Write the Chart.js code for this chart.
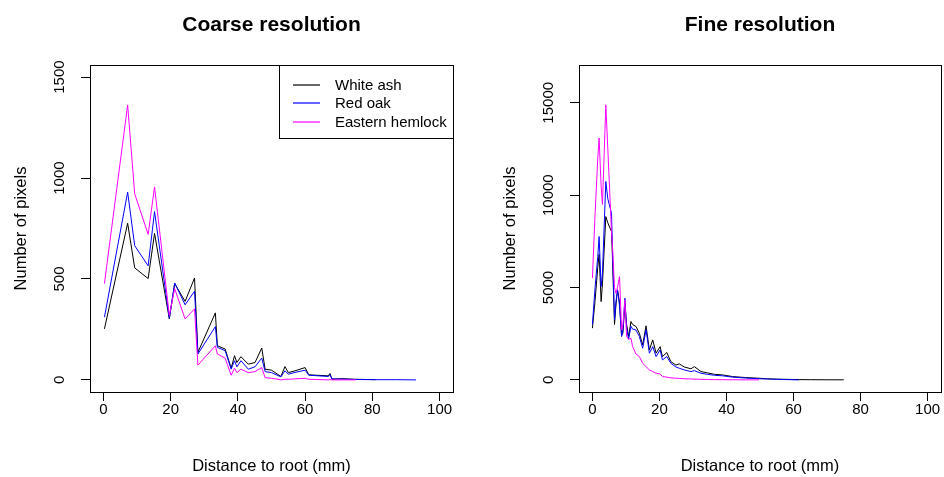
<!DOCTYPE html>
<html>
<head>
<meta charset="utf-8">
<script src="https://cdn.jsdelivr.net/npm/chart.js@4.4.1/dist/chart.umd.min.js"></script>
<style>
  html, body { margin: 0; padding: 0; background: #fff; width: 944px; height: 477px; overflow: hidden; }
  canvas { position: absolute; top: 0; }
  #coarse { left: 0; }
  #fine { left: 472px; }
</style>
</head>
<body>
<canvas id="coarse" width="472" height="477"></canvas>
<canvas id="fine" width="472" height="477"></canvas>
<script>
// ---- data -----------------------------------------------------------------
const xTicks = [0, 20, 40, 60, 80, 100];
const coarseTicks = [0, 500, 1000, 1500];
const fineTicks = [0, 5000, 10000, 15000];
const speciesNames = ["White ash", "Red oak", "Eastern hemlock"];

// coarse resolution: distance to root (mm)
const coarseDist = [0.3, 7.2, 9.3, 13.3, 15.2, 19.6, 21.2, 24.3, 27.1, 28.1,
  33.3, 33.9, 36.2, 38, 39, 39.7, 40.9, 43.1, 45.1, 47.1,
  48.1, 50, 52.8, 54, 55, 57, 60, 61.1, 66.9, 67.4,
  68, 71, 75, 81, 87, 93];
const coarseAsh = [253, 776, 555, 502, 726, 302, 477, 389, 505, 136,
  332, 169, 153, 58, 120, 86, 115, 78, 86, 158,
  53, 48, 17, 66, 36, 45, 61, 25, 20, 32,
  3, 6, 3, 1];
const coarseOak = [311, 930, 665, 565, 834, 306, 480, 372, 439, 128,
  264, 161, 145, 53, 95, 65, 95, 53, 65, 108,
  41, 36, 15, 45, 28, 37, 48, 23, 17, 25,
  5, 4, 2, 1, 1, 0];
const coarseHemlock = [477, 1362, 922, 721, 956, 320, 452, 302, 352, 73,
  169, 128, 108, 23, 58, 36, 53, 36, 41, 61,
  11, 8, 0, 3, 3, 5, 8, 3, 0, 2,
  0, 0, 0];

// fine resolution
const fineDist = [0, 0.8, 1.6, 2.0, 2.6, 3.0, 4.0, 4.6, 5.7, 6.0,
  6.6, 7.0, 7.5, 8.1, 8.7, 9.1, 9.7, 10.2, 10.8, 11.5,
  12.0, 13.0, 14.0, 15.0, 16.0, 17.0, 18.0, 19.0, 20.2, 20.9,
  22.2, 23.4, 24.9, 25.9, 27.4, 29.4, 30.4, 32.4, 34.3, 36.4,
  38.8, 41.8, 45.7, 49.7, 52, 55, 58, 61.6, 65, 70, 75];
const fineAsh = [2800, 4300, 6100, 6800, 4240, 5200, 8840, 8500, 8030, 6500,
  3000, 4000, 4870, 4200, 2400, 2530, 4100, 3000, 2345, 3160,
  3000, 2890, 2530, 1895, 2925, 1625, 2165, 1445, 1800, 1260,
  1480, 990, 800, 866, 700, 600, 720, 450, 380, 300,
  270, 180, 125, 90, 60, 40, 30, 15, 10, 5, 3];
const fineOak = [3000, 5000, 6675, 7760, 5050, 5780, 10740, 9800, 9020, 7000,
  3250, 4200, 4870, 4000, 2345, 2700, 4420, 2800, 2200, 2900,
  2750, 2700, 2350, 1715, 2710, 1445, 1800, 1260, 1625, 1080,
  1260, 900, 700, 630, 540, 450, 500, 360, 300, 250,
  220, 150, 100, 60, 50, 30, 15, 0];
const fineHemlock = [5506, 9000, 12000, 13090, 10500, 9500, 14890, 12500, 8000, 7220,
  5000, 4690, 5000, 5590, 2700, 3000, 4330, 2345, 2200, 2255,
  1800, 1400, 1260, 900, 720, 540, 450, 360, 325, 180,
  150, 110, 90, 80, 60, 50, 40, 30, 20, 15,
  10, 5, 3, 0];

// ---- styling --------------------------------------------------------------
const FONT = '"Liberation Sans", Arial, sans-serif';
const COLORS = ["#000000", "#0000ff", "#ff00ff"];
const DRAW_ORDER = [2, 1, 0]; // black under blue under magenta, like R's lines() order
Chart.defaults.font.family = FONT;
Chart.defaults.color = "#000";

function series(xs, ys, i) {
  return {
    label: speciesNames[i],
    data: ys.map((y, k) => ({ x: xs[k], y })),
    borderColor: COLORS[i], backgroundColor: COLORS[i],
    borderWidth: 1, pointRadius: 0, showLine: true, tension: 0, fill: false,
    order: DRAW_ORDER[i],
  };
}

// box round the plot region + main title (R's box() / title())
const rFrame = {
  id: "rFrame",
  afterDraw(chart, args, opts) {
    const { ctx, chartArea: a } = chart;
    ctx.save();
    ctx.strokeStyle = "#000";
    ctx.lineWidth = 1;
    ctx.strokeRect(Math.round(a.left) + 0.5, Math.round(a.top) + 0.5,
      Math.round(a.right - a.left), Math.round(a.bottom - a.top));
    ctx.font = "bold 21px " + FONT;
    ctx.fillStyle = "#000";
    ctx.textAlign = "center";
    ctx.textBaseline = "middle";
    ctx.fillText(opts.title, (a.left + a.right) / 2, opts.titleY);
    ctx.restore();
  },
};

// R-style boxed legend in the top-right corner of the plot region
const rLegend = {
  id: "rLegend",
  afterDraw(chart, args, opts) {
    if (!opts.show) return;
    const { ctx, chartArea: a } = chart;
    const w = 174, h = 73, rowH = 18.3;
    const left = Math.round(a.right - w), top = Math.round(a.top);
    ctx.save();
    ctx.fillStyle = "#fff";
    ctx.fillRect(left, top, w, h);
    ctx.strokeStyle = "#000";
    ctx.lineWidth = 1;
    ctx.strokeRect(left + 0.5, top + 0.5, w, h);
    ctx.font = "15px " + FONT;
    ctx.textBaseline = "middle";
    ctx.textAlign = "left";
    speciesNames.forEach((name, i) => {
      const y = Math.round(top + 20 + i * rowH);
      // sample line: 1px wide but straddling two pixel rows, soft like R's png device
      ctx.strokeStyle = COLORS[i];
      ctx.lineWidth = 1.2;
      ctx.beginPath();
      ctx.moveTo(left + 14, y);
      ctx.lineTo(left + 41, y);
      ctx.stroke();
      ctx.fillStyle = "#000";
      ctx.fillText(name, left + 56, y + 0.5);
    });
    ctx.restore();
  },
};

function makePanel(canvasId, p) {
  return new Chart(document.getElementById(canvasId), {
    type: "scatter",
    data: { datasets: p.series },
    plugins: [rFrame, rLegend],
    options: {
      responsive: false, animation: false, devicePixelRatio: 1,
      layout: { padding: { top: p.top, right: p.right, left: 0, bottom: 0 } },
      scales: {
        x: {
          type: "linear", min: -4, max: 104,
          afterBuildTicks: s => { s.ticks = xTicks.map(v => ({ value: v })); },
          afterFit: s => { s.height = 477 - p.bottom; },
          ticks: { font: { size: 15 }, color: "#000", padding: 0, autoSkip: false, maxRotation: 0, callback: v => String(v) },
          grid: { drawOnChartArea: false, drawTicks: true, tickLength: 9, color: "#000" },
          border: { display: false },
          title: { display: true, text: "Distance to root (mm)", font: { size: 16.5 }, color: "#000", padding: { top: 0, bottom: 1 } },
        },
        y: {
          type: "linear", min: p.yMin, max: p.yMax,
          afterBuildTicks: s => { s.ticks = p.yTicks.map(v => ({ value: v })); },
          afterFit: s => { s.width = p.yWidth; },
          ticks: { font: { size: 15 }, color: "#000", padding: p.yLabPad, autoSkip: false,
            minRotation: 90, maxRotation: 90, crossAlign: "center", callback: v => String(v) },
          grid: { drawOnChartArea: false, drawTicks: true, tickLength: 9, color: "#000" },
          border: { display: false },
          title: { display: true, text: "Number of pixels", font: { size: 16.5 }, color: "#000", padding: { top: p.yTitlePad, bottom: 0 } },
        },
      },
      plugins: {
        legend: { display: false },
        tooltip: { enabled: false },
        rFrame: { title: p.title, titleY: 25 },
        rLegend: { show: p.legend },
      },
    },
  });
}

makePanel("coarse", {
  title: "Coarse resolution", legend: true,
  series: [series(coarseDist, coarseAsh, 0), series(coarseDist, coarseOak, 1), series(coarseDist, coarseHemlock, 2)],
  yMin: -60, yMax: 1560, yTicks: coarseTicks,
  top: 65, bottom: 392, right: 472 - 453, yWidth: 90, yLabPad: 4, yTitlePad: 12,
});

makePanel("fine", {
  title: "Fine resolution", legend: false,
  series: [series(fineDist, fineAsh, 0), series(fineDist, fineOak, 1), series(fineDist, fineHemlock, 2)],
  yMin: -656, yMax: 17046, yTicks: fineTicks,
  top: 65, bottom: 392, right: 472 - 941 + 472, yWidth: 579 - 472, yLabPad: 0, yTitlePad: 29,
});
</script>
</body>
</html>
